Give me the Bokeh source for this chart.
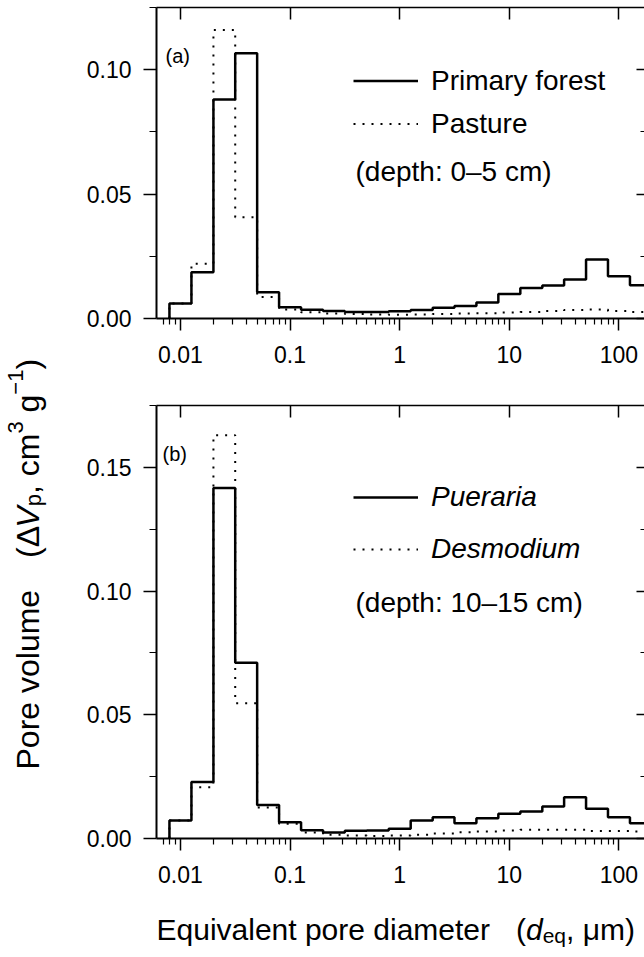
import math
from bokeh.plotting import figure
from bokeh.models import (FixedTicker, LinearAxis, LogAxis, Legend, LegendItem, Label,
                          CustomJSTickFormatter, NumeralTickFormatter, Range1d)
from bokeh.layouts import row, column
from bokeh.embed import file_html
from bokeh.resources import INLINE

# ---------------- data ----------------
bin_edges_um = [0.00794, 0.0126, 0.0200, 0.0316, 0.0501, 0.0794, 0.126, 0.200, 0.316, 0.501,
                0.794, 1.26, 2.00, 3.16, 5.01, 7.94, 12.6, 20.0, 31.6, 50.1, 79.4, 126.0, 200.0]

forest_0_5 = [0.0060, 0.0186, 0.0880, 0.1066, 0.0106, 0.0045, 0.0035, 0.0030, 0.0026, 0.0026,
              0.0029, 0.0034, 0.0043, 0.0050, 0.0064, 0.0098, 0.0123, 0.0133, 0.0157, 0.0237,
              0.0170, 0.0134]
pasture_0_5 = [0.0060, 0.0220, 0.1160, 0.0407, 0.0086, 0.0036, 0.0025, 0.0020, 0.0018, 0.0016,
               0.0015, 0.0016, 0.0018, 0.0020, 0.0021, 0.0024, 0.0026, 0.0030, 0.0034, 0.0036,
               0.0030, 0.0026]

pueraria_10_15 = [0.0073, 0.0228, 0.1417, 0.0710, 0.0135, 0.0066, 0.0033, 0.0024, 0.0031, 0.0032,
                  0.0039, 0.0073, 0.0086, 0.0062, 0.0082, 0.0100, 0.0109, 0.0129, 0.0167, 0.0120,
                  0.0086, 0.0062]
desmodium_10_15 = [0.0073, 0.0207, 0.1630, 0.0547, 0.0125, 0.0060, 0.0024, 0.0015, 0.0012, 0.0010,
                   0.0012, 0.0015, 0.0020, 0.0025, 0.0028, 0.0032, 0.0035, 0.0035, 0.0035, 0.0030,
                   0.0030, 0.0028]

x_major_ticks = [0.01, 0.1, 1, 10, 100]
x_minor_ticks = [m * d for d in [0.001, 0.01, 0.1, 1, 10, 100] for m in range(2, 10)]
x_range_um = (0.00605, 171.0)

a_y_major = [0.0, 0.05, 0.10]
a_y_minor = [0.025, 0.075, 0.125]
a_y_max = 0.125
b_y_major = [0.0, 0.05, 0.10, 0.15]
b_y_minor = [0.025, 0.075, 0.125, 0.175]
b_y_max = 0.175

a_labels = ["Primary forest", "Pasture", "(depth: 0\u20135 cm)", "(a)"]
b_labels = ["Pueraria", "Desmodium", "(depth: 10\u201315 cm)", "(b)"]

FONT = "Liberation Sans"

# Arial / Liberation Sans advance widths (per 1000 em)
AW = {" ": 278, "(": 333, ")": 333, ",": 278, ".": 278, ":": 278, "\u2013": 556, "\u2212": 584,
      "\u0394": 612, "\u03bc": 576, "E": 667, "P": 667, "V": 667,
      "a": 556, "c": 500, "d": 556, "e": 556, "f": 278, "g": 556, "i": 222, "l": 222, "m": 833,
      "n": 556, "o": 556, "p": 556, "q": 556, "r": 333, "s": 500, "t": 278, "u": 556, "v": 500,
      "y": 500}
for ch in "0123456789":
    AW[ch] = 556


def tw(s, size):
    return sum(AW.get(c, 556) for c in s) * size / 1000.0


def step_xy(edges, vals):
    xs = [edges[0]] + list(edges)
    ys = [0.0] + list(vals) + [vals[-1]]
    return xs, ys


HIDDEN = CustomJSTickFormatter(code="return ' ';")


def make_panel(height, ymax, ymaj, ymin, solid, dotted, labels, italic,
               mb_top, mb_bottom, leg_h, leg_top, depth_mid, tag_mid, tag_x, frame_h):
    p = figure(width=576, height=height, x_axis_type="log",
               x_range=Range1d(*x_range_um), y_range=Range1d(0, ymax),
               output_backend="svg", toolbar_location=None,
               min_border_left=88, min_border_right=0,
               min_border_top=mb_top, min_border_bottom=mb_bottom,
               outline_line_color=None, background_fill_color="white",
               border_fill_color="white")
    p.xgrid.visible = False
    p.ygrid.visible = False

    xs, ys = step_xy(bin_edges_um, solid)
    r1 = p.step(xs, ys, mode="after", line_color="black", line_width=2.5)
    xs2, ys2 = step_xy(bin_edges_um, dotted)
    r2 = p.step(xs2, ys2, mode="after", line_color="black", line_width=2,
                line_dash="2 7")

    xa = p.xaxis[0]
    xa.ticker = FixedTicker(ticks=x_major_ticks, minor_ticks=x_minor_ticks)
    xa.formatter = CustomJSTickFormatter(code="return tick.toString();")
    xa.major_tick_out = 12
    xa.major_tick_in = 0
    xa.minor_tick_out = 6
    xa.minor_tick_in = 0
    xa.axis_line_width = 2
    xa.major_tick_line_width = 1.5
    xa.minor_tick_line_width = 1.2
    xa.major_label_standoff = 15
    xa.major_label_text_font = FONT
    xa.major_label_text_font_size = "23px"
    xa.major_label_text_color = "black"

    ya = p.yaxis[0]
    ya.ticker = FixedTicker(ticks=ymaj, minor_ticks=ymin)
    ya.formatter = NumeralTickFormatter(format="0.00")
    ya.major_tick_out = 13
    ya.major_tick_in = 0
    ya.minor_tick_out = 7
    ya.minor_tick_in = 0
    ya.axis_line_width = 2
    ya.major_tick_line_width = 1.5
    ya.minor_tick_line_width = 1.2
    ya.major_label_standoff = 12
    ya.major_label_text_font = FONT
    ya.major_label_text_font_size = "23px"
    ya.major_label_text_color = "black"

    top = LogAxis(ticker=FixedTicker(ticks=x_major_ticks, minor_ticks=[]),
                  formatter=HIDDEN,
                  major_tick_in=12, major_tick_out=0, minor_tick_line_color=None,
                  major_label_text_font_size="2px", major_label_text_color=None,
                  major_label_standoff=0,
                  axis_line_width=1.5, major_tick_line_width=1.5)
    p.add_layout(top, "above")
    right = LinearAxis(ticker=FixedTicker(ticks=ymaj, minor_ticks=ymin),
                       formatter=HIDDEN,
                       major_tick_in=8, major_tick_out=0, minor_tick_in=4, minor_tick_out=0,
                       axis_line_color=None, major_label_text_font_size="2px",
                       major_label_text_color=None,
                       major_label_standoff=0, major_tick_line_width=1.5,
                       minor_tick_line_width=1.2)
    p.add_layout(right, "right")

    legend = Legend(items=[LegendItem(label=labels[0], renderers=[r1]),
                           LegendItem(label=labels[1], renderers=[r2])],
                    location=(197, frame_h - leg_top - 2 * leg_h),
                    orientation="vertical", glyph_width=65, glyph_height=leg_h,
                    label_height=leg_h, label_standoff=13, spacing=0, padding=0, margin=0,
                    border_line_color=None, background_fill_alpha=0,
                    label_text_font=FONT, label_text_font_size="28px",
                    label_text_color="black",
                    label_text_font_style="italic" if italic else "normal")
    p.add_layout(legend)

    p.add_layout(Label(x=199, y=frame_h - depth_mid, x_units="screen", y_units="screen",
                       text=labels[2], text_font=FONT, text_font_size="28px",
                       text_baseline="middle", text_align="left", text_color="black"))
    p.add_layout(Label(x=tag_x, y=frame_h - tag_mid, x_units="screen", y_units="screen",
                       text=labels[3], text_font=FONT, text_font_size="20px",
                       text_baseline="middle", text_align="left", text_color="black"))
    return p


# panel a: frame from y=7 to y=318 ; panel b: frame from y=405 to y=838
pa = make_panel(378, a_y_max, a_y_major, a_y_minor, forest_0_5, pasture_0_5, a_labels, False,
                7, 60, 43, 52, 164, 48, 9, 311)
pb = make_panel(520, b_y_max, b_y_major, b_y_minor, pueraria_10_15, desmodium_10_15, b_labels,
                True, 27, 60, 52, 66, 196.5, 48, 6, 433)


def blank_fig(w, h):
    f = figure(width=w, height=h, output_backend="svg", toolbar_location=None,
               min_border=0, x_axis_location=None, y_axis_location=None,
               outline_line_color=None, background_fill_color="white",
               border_fill_color="white")
    f.xgrid.visible = False
    f.ygrid.visible = False
    return f


# x-axis title (below panel b), composed of pieces: (text, style, size, shift, gap_after)
F = 30
xlab = blank_fig(576, 59)
x_pieces = [("Equivalent pore diameter", "normal", F, 0, 26),
            ("(", "normal", F, 0, 0),
            ("d", "italic", F, 0, 0),
            ("eq", "normal", 21, -6, 0),
            (", \u03bcm)", "normal", F, 0, 0)]
cx = 0.0
for txt, sty, sz, shift, gap in x_pieces:
    xlab.add_layout(Label(x=cx, y=28 + shift, x_units="screen", y_units="screen", text=txt,
                          text_font=FONT, text_font_size=f"{sz}px", text_font_style=sty,
                          text_baseline="alphabetic", text_align="left", text_color="black"))
    cx += tw(txt, sz) + gap

# y-axis title figure (rotated text), composed of pieces
FY = 32
SP = tw(" ", FY)
ylab = blank_fig(68, 957)
y_pieces = [("Pore volume", "normal", FY, 0, 32),
            ("(\u0394", "normal", FY, 0, 0),
            ("V", "italic", FY, 0, 0),
            ("p", "normal", 22, -6, 0),
            (", cm", "normal", FY, 0, 0),
            ("3", "normal", 22, 12, SP),
            ("g", "normal", FY, 0, 0),
            ("\u22121", "normal", 22, 12, 0),
            (")", "normal", FY, 0, 0)]
cy = 188.0
for txt, sty, sz, shift, gap in y_pieces:
    ylab.add_layout(Label(x=27 - shift, y=cy, x_units="screen", y_units="screen", text=txt,
                          angle=math.pi / 2, text_font=FONT, text_font_size=f"{sz}px",
                          text_font_style=sty, text_baseline="alphabetic", text_align="left",
                          text_color="black"))
    cy += tw(txt, sz) + gap

layout = row(ylab, column(pa, pb, xlab))
open("out.html", "w").write(file_html(layout, INLINE))
